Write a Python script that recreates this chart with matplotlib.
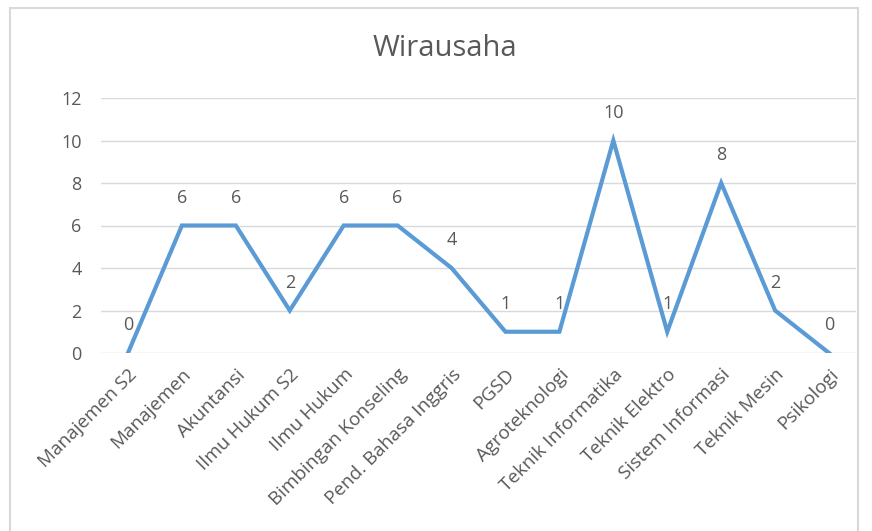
import matplotlib.pyplot as plt
from matplotlib.patches import Rectangle

categories = ["Manajemen S2", "Manajemen", "Akuntansi", "Ilmu Hukum S2", "Ilmu Hukum",
              "Bimbingan Konseling", "Pend. Bahasa Inggris", "PGSD", "Agroteknologi",
              "Teknik Informatika", "Teknik Elektro", "Sistem Informasi", "Teknik Mesin",
              "Psikologi"]
values = [0, 6, 6, 2, 6, 6, 4, 1, 1, 10, 1, 8, 2, 0]
yticks = [0, 2, 4, 6, 8, 10, 12]

txt = "#595959"
plt.rcParams["font.family"] = ["Open Sans", "DejaVu Sans"]

fig = plt.figure(figsize=(8.72, 5.31), dpi=100)
fig.patches.append(Rectangle((10 / 872, -0.05), 848 / 872, 1.05 - 8 / 531,
                             transform=fig.transFigure, fill=False,
                             edgecolor="#d9d9d9", linewidth=1.5))
ax = fig.add_axes([101 / 872, 1 - 353 / 531, 755 / 872, 255 / 531])

x = list(range(len(categories)))
ax.plot(x, values, color="#5B9BD5", linewidth=3.0, solid_joinstyle="miter")
for xi, v in zip(x, values):
    ax.annotate(str(v), (xi, v), xytext=(0, 20), textcoords="offset points",
                ha="center", va="center", fontsize=13, color=txt)

ax.set_xlim(-0.5, len(categories) - 0.5)
ax.set_ylim(0, 12)
ax.set_yticks(yticks)
ax.set_xticks(x)
ax.set_xticklabels(categories, rotation=45, ha="right", rotation_mode="anchor")
ax.tick_params(axis="y", length=0, labelsize=13, colors=txt, pad=14)
ax.tick_params(axis="x", length=0, labelsize=13.6, colors=txt, pad=9)
ax.grid(axis="y", color="#d9d9d9", linewidth=1)
ax.set_axisbelow(True)
for s in ax.spines.values():
    s.set_visible(False)

fig.text(445 / 872, 1 - 48 / 531, "Wirausaha", ha="center", va="center",
         fontsize=21, color=txt)

fig.savefig("out.png", dpi=100)
